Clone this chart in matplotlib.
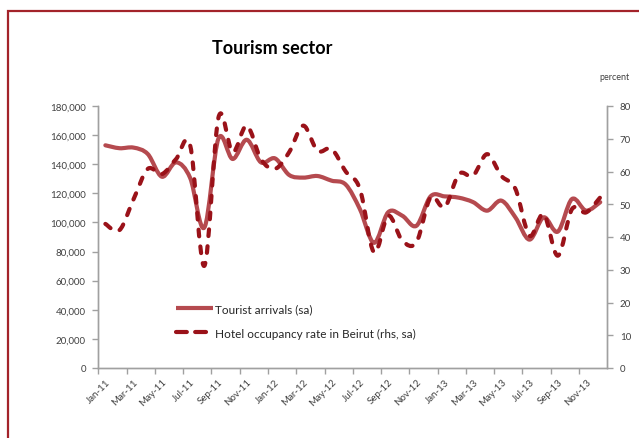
import matplotlib
matplotlib.use("Agg")
import matplotlib.pyplot as plt
import numpy as np
from matplotlib.path import Path
from matplotlib.patches import PathPatch, Rectangle
from matplotlib.lines import Line2D
from matplotlib.ticker import FuncFormatter, MultipleLocator

plt.rcParams["font.family"] = ["Lato", "DejaVu Sans"]

# Monthly series, Jan-11 .. Dec-13
months = ["Jan-11", "Feb-11", "Mar-11", "Apr-11", "May-11", "Jun-11", "Jul-11", "Aug-11",
          "Sep-11", "Oct-11", "Nov-11", "Dec-11", "Jan-12", "Feb-12", "Mar-12", "Apr-12",
          "May-12", "Jun-12", "Jul-12", "Aug-12", "Sep-12", "Oct-12", "Nov-12", "Dec-12",
          "Jan-13", "Feb-13", "Mar-13", "Apr-13", "May-13", "Jun-13", "Jul-13", "Aug-13",
          "Sep-13", "Oct-13", "Nov-13", "Dec-13"]

tourist_arrivals = [153000, 151000, 151400, 147000, 131400, 141300, 130500, 96500,
                    157700, 143600, 156800, 141300, 144000, 132600, 130800, 131900,
                    128700, 126000, 109200, 86000, 107000, 104600, 97700, 117900,
                    117900, 117000, 114000, 108100, 115000, 103500, 88200, 103500,
                    93700, 116100, 108100, 113900]

hotel_occupancy = [44.0, 42.1, 51.6, 60.8, 59.2, 63.8, 67.9, 31.2,
                   76.5, 65.9, 74.0, 63.8, 60.8, 65.9, 74.0, 66.3,
                   66.9, 60.0, 54.7, 35.3, 46.5, 38.9, 38.4, 52.1,
                   49.1, 59.2, 58.7, 65.3, 58.7, 54.7, 40.4, 47.0,
                   34.3, 48.5, 47.5, 52.1]

tick_labels = months[::2]

solid_color = "#B54A4F"
dash_color = "#9A1219"
axis_color = "#A0A0A0"
text_color = "#404040"


def smooth_path(xs, ys):
    """Bezier path through every point, with Catmull-Rom style control points."""
    pts = np.column_stack([xs, ys]).astype(float)
    n = len(pts)
    verts = [pts[0]]
    codes = [Path.MOVETO]
    for i in range(n - 1):
        p0 = pts[i - 1] if i > 0 else pts[i]
        p1 = pts[i]
        p2 = pts[i + 1]
        p3 = pts[i + 2] if i + 2 < n else pts[i + 1]
        c1 = p1 + (p2 - p0) / 6.0
        c2 = p2 - (p3 - p1) / 6.0
        verts += [c1, c2, p2]
        codes += [Path.CURVE4] * 3
    return Path(verts, codes)


fig = plt.figure(figsize=(6.39, 4.39), dpi=100)
ax = fig.add_axes([98.3 / 639, 70 / 439, 509 / 639, 262 / 439])
ax2 = ax.twinx()

x = np.arange(len(months))

lw = 3.0
dash_pattern = (1.6, 2.45)  # scaled by the line width
ax.add_patch(PathPatch(smooth_path(x, tourist_arrivals), fill=False,
                       edgecolor=solid_color, linewidth=lw, capstyle="round",
                       joinstyle="round", zorder=2))
ax2.add_patch(PathPatch(smooth_path(x, hotel_occupancy), fill=False,
                        edgecolor=dash_color, linewidth=lw,
                        linestyle=(0, dash_pattern), capstyle="round",
                        joinstyle="round", zorder=3))

ax.set_xlim(-0.5, len(months) - 0.5)
ax.set_ylim(0, 180000)
ax2.set_ylim(0, 80)

ax.yaxis.set_major_locator(MultipleLocator(20000))
ax.yaxis.set_major_formatter(FuncFormatter(lambda v, p: f"{int(v):,}"))
ax2.yaxis.set_major_locator(MultipleLocator(10))

# tick marks on category boundaries, labels centred on the categories
ax.set_xticks(x[::2] - 0.5)
ax.set_xticklabels([])
ax.set_xticks(x[::2], minor=True)
ax.set_xticklabels(tick_labels, minor=True, rotation=45, ha="right",
                   rotation_mode="anchor")

for a in (ax, ax2):
    for s in a.spines.values():
        s.set_color(axis_color)
        s.set_linewidth(1.0)
    a.spines["top"].set_visible(False)
    a.tick_params(colors=axis_color, labelcolor=text_color, labelsize=7,
                  length=4, width=1.0, direction="out")
ax.tick_params(axis="y", pad=5)
ax2.tick_params(axis="y", pad=5)
ax.tick_params(axis="x", which="minor", length=0, pad=6.5, labelsize=7,
               labelcolor=text_color)
ax.patch.set_visible(False)

# Legend
handles = [Line2D([], [], color=solid_color, lw=lw, solid_capstyle="butt"),
           Line2D([], [], color=dash_color, lw=lw, linestyle=(0, (2.6, 2.0)),
                  dash_capstyle="round")]
leg = fig.legend(handles, ["Tourist arrivals (sa)", "Hotel occupancy rate in Beirut (rhs, sa)"],
                 loc="upper left", bbox_to_anchor=(176 / 639, 1 - 304 / 439),
                 frameon=False, fontsize=8.5, handlelength=3.1, handletextpad=0.2,
                 labelspacing=1.15, borderpad=0, borderaxespad=0)
for t in leg.get_texts():
    t.set_color("#262626")

fig.text(272 / 639, 1 - 49 / 439, "Tourism sector", ha="center", va="center",
         fontsize=13, fontweight="bold", color="black")
fig.text(614 / 639, 1 - 78 / 439, "percent", ha="center", va="center",
         fontsize=6.5, color=text_color)

# Chart frame
fig.patches.append(Rectangle((8 / 639, -0.05), 1.0, 1 - 12 / 439 + 0.05,
                             transform=fig.transFigure, fill=False,
                             edgecolor="#A3232A", linewidth=1.6, zorder=10))

fig.savefig("out.png", dpi=100)
